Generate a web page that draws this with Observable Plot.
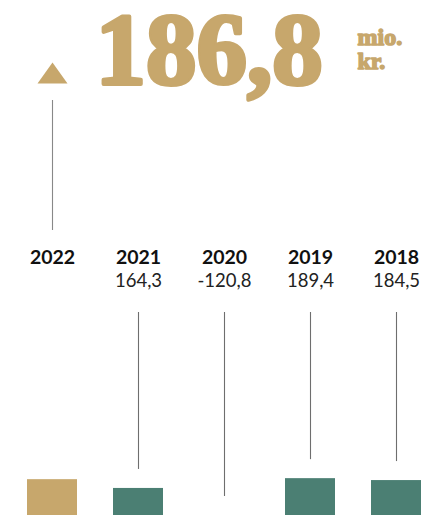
<!DOCTYPE html>
<html><head><meta charset="utf-8">
<script src="https://cdn.jsdelivr.net/npm/d3@7"></script>
<script src="https://cdn.jsdelivr.net/npm/@observablehq/plot@0.6"></script>
<style>html,body{margin:0;padding:0;background:#fff;} svg{display:block;}</style>
</head><body><div id="chart"></div>
<script>
const years = ["2022", "2021", "2020", "2019", "2018"];
const values = [186.8, 164.3, -120.8, 189.4, 184.5];
const unitLines = ["mio.", "kr."];

const GOLD = "#C7A76C", TEAL = "#4B7F73";
const Y_BASE = 95, Y_TOP = 615;
const data = years.map((year, i) => ({year, value: values[i]}));
const current = data[0];
const history = data.slice(1);
const fmt = v => v.toFixed(1).replace(".", ",");

const triangle = {draw(ctx, size) {
  const r = Math.sqrt(size / Math.PI);
  ctx.moveTo(0, -0.7 * r); ctx.lineTo(r, 0.7 * r); ctx.lineTo(-r, 0.7 * r); ctx.closePath();
}};

const plot = Plot.plot({
  width: 432, height: 515,
  marginTop: 312, marginBottom: 0, marginLeft: 27, marginRight: 11,
  x: {type: "band", domain: years, paddingInner: 0.42, paddingOuter: 0, axis: null},
  y: {domain: [Y_BASE, Y_TOP], axis: null},
  color: {type: "identity"},
  style: {background: "#fff", overflow: "visible"},
  marks: [
    Plot.barY(data.filter(d => d.value > Y_BASE), {x: "year", y1: Y_BASE, y2: "value", fill: d => d.year === current.year ? GOLD : TEAL}),
    Plot.ruleX(history, {x: "year", y1: Y_TOP, y2: d => Math.max(d.value, Y_BASE), insetBottom: 19, stroke: "#6e6e6e", strokeWidth: 1.1}),
    Plot.ruleX([current], {x: "year", insetBottom: 73, dy: -212, stroke: "#888", strokeWidth: 1.1}),
    Plot.dot([current], {x: "year", frameAnchor: "top", dy: 72.5 - 312, symbol: triangle, r: 15, fill: GOLD}),
    Plot.text(data, {x: "year", text: "year", frameAnchor: "top", lineAnchor: "bottom", dy: -49, fontSize: 19.5, fontWeight: 700, fontFamily: "Lato", fill: "#111"}),
    Plot.text(history, {x: "year", text: d => fmt(d.value), frameAnchor: "top", lineAnchor: "bottom", dy: -26, fontSize: 18.5, fontFamily: "Lato", fill: "#222"}),
    Plot.text([current], {text: d => fmt(d.value), frameAnchor: "top-left", textAnchor: "start", lineAnchor: "bottom", dx: 68, dy: -229, fontSize: 101, fontFamily: "Liberation Serif", fontWeight: 700, fill: GOLD, stroke: GOLD, strokeWidth: 4, ariaLabel: "headline"}),
    Plot.text([unitLines.join("\n")], {text: d => d, frameAnchor: "top-left", textAnchor: "start", lineAnchor: "bottom", dx: 330, dy: -244, lineHeight: 1, fontSize: 24, fontFamily: "Liberation Serif", fontWeight: 700, fill: GOLD, stroke: GOLD, strokeWidth: 1.5, ariaLabel: "unit"})
  ]
});

plot.querySelectorAll('g[aria-label="headline"] text').forEach(t => {
  t.setAttribute("textLength", 242); t.setAttribute("lengthAdjust", "spacingAndGlyphs");
});
const unitWidths = [70, 45];
plot.querySelectorAll('g[aria-label="unit"] tspan').forEach((t, i) => {
  t.setAttribute("textLength", unitWidths[i]); t.setAttribute("lengthAdjust", "spacingAndGlyphs");
});
document.getElementById("chart").appendChild(plot);
</script>
</body></html>
